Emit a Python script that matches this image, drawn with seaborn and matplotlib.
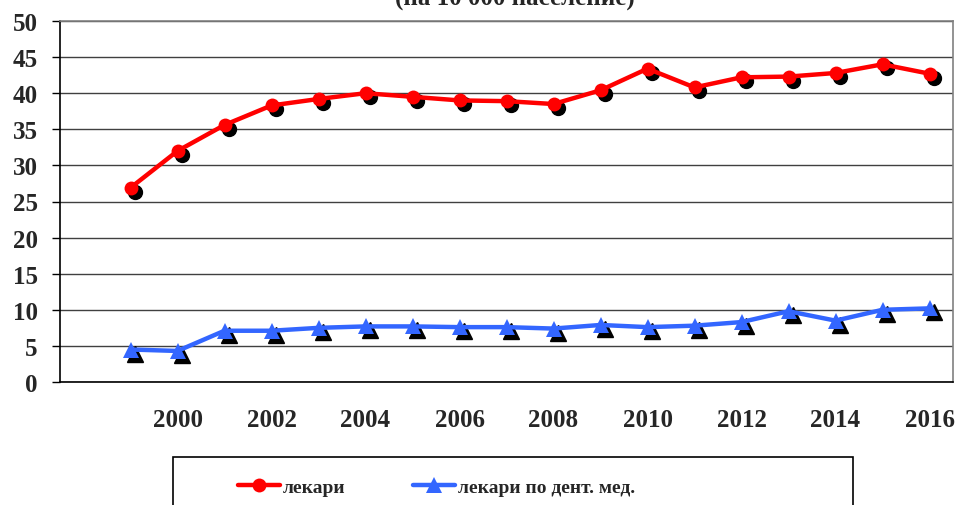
import matplotlib
matplotlib.use("Agg")
import matplotlib.pyplot as plt
import matplotlib.transforms as mtransforms
from matplotlib.patches import Rectangle
from matplotlib.lines import Line2D
import seaborn as sns
import pandas as pd

years = list(range(1999, 2017))
doctors = [26.9, 32.0, 35.6, 38.3, 39.2, 40.0, 39.5, 39.0, 38.9, 38.5,
           40.4, 43.4, 40.8, 42.2, 42.3, 42.8, 44.0, 42.7]
dentists = [4.5, 4.3, 7.1, 7.1, 7.5, 7.7, 7.7, 7.6, 7.6, 7.4,
            7.9, 7.6, 7.8, 8.3, 9.8, 8.5, 10.0, 10.2]
tick_years = list(range(2000, 2017, 2))
label_doc = "лекари"
label_dent = "лекари по дент. мед."
subtitle = "(на 10 000 население)"

df = pd.DataFrame({"year": years, "doc": doctors, "dent": dentists})

sns.set_style("white")
plt.rcParams["font.family"] = ["Liberation Serif", "DejaVu Serif"]
plt.rcParams["font.weight"] = "bold"

fig = plt.figure(figsize=(9.58, 5.06), dpi=100)
ax = fig.add_axes([60 / 958, 1 - 383 / 506, 893 / 958, 361 / 506])

red = "#FF0000"
blue = "#3366FF"

# shadow markers, shifted down-right
shadow = mtransforms.offset_copy(ax.transData, fig=fig, x=4, y=-4, units="dots")
ax.plot(df["year"], df["doc"], "o", color="black", ms=10, transform=shadow, zorder=3)
ax.plot(df["year"], df["dent"], "^", color="black", ms=11, transform=shadow, zorder=3)

sns.lineplot(data=df, x="year", y="doc", ax=ax, color=red, lw=3.2,
             marker="o", markersize=10, markeredgewidth=0, zorder=4)
sns.lineplot(data=df, x="year", y="dent", ax=ax, color=blue, lw=3.2,
             marker="^", markersize=11, markeredgewidth=0, zorder=4)

ax.set_xlim(1997.5, 2016.5)
ax.set_ylim(0, 50)
ax.set_yticks(range(0, 51, 5))
ax.set_xticks(tick_years)
ax.set_xticks([y - 0.5 for y in range(1998, 2018)], minor=True)
ax.tick_params(axis="x", which="major", length=0, pad=19, labelsize=18)
ax.tick_params(axis="x", which="minor", length=6, width=1, color="black", direction="out")
ax.tick_params(axis="y", length=6, width=1, color="black", direction="out", pad=10, labelsize=18)
ax.tick_params(axis="both", bottom=True, left=True)
for lab in ax.get_xticklabels() + ax.get_yticklabels():
    lab.set_fontweight("bold")
ax.set_xlabel("")
ax.set_ylabel("")

ax.yaxis.grid(True, color="#404040", lw=1)
ax.set_axisbelow(True)
ax.spines["left"].set_color("black")
ax.spines["bottom"].set_color("black")
ax.spines["top"].set_color("#808080")
ax.spines["right"].set_color("#808080")
for s in ax.spines.values():
    s.set_linewidth(1.2)

fig.text(515 / 958, 1 - 6 / 506, subtitle, ha="center", va="baseline",
         fontsize=18, fontweight="bold")

# legend box (cut off by the figure edge, like the original)
fig.patches.append(Rectangle((173 / 958, -0.05), 680 / 958, 0.05 + (506 - 458) / 506,
                             transform=fig.transFigure, fill=False,
                             edgecolor="black", lw=1.2))
handles = [
    Line2D([], [], color=red, lw=3.2, marker="o", ms=10, markeredgewidth=0),
    Line2D([], [], color=blue, lw=3.2, marker="^", ms=11, markeredgewidth=0),
]
fig.legend(handles, [label_doc, label_dent], loc="center left",
           bbox_to_anchor=(238 / 958, 1 - 488 / 506), ncol=2, frameon=False,
           prop={"size": 14, "weight": "bold"}, handlelength=2.15,
           handletextpad=0.15, columnspacing=3.5, borderpad=0, borderaxespad=0)

fig.savefig("out.png", dpi=100)
